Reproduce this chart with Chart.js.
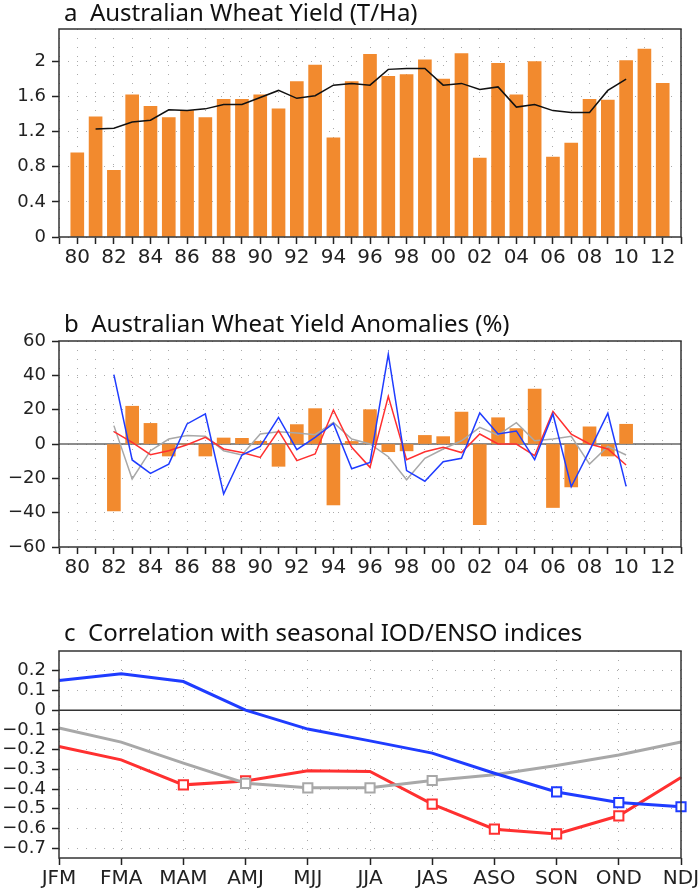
<!DOCTYPE html>
<html>
<head>
<meta charset="utf-8">
<script src="https://cdn.jsdelivr.net/npm/chart.js@4.4.0/dist/chart.umd.min.js"></script>
<style>
  body { margin: 0; background: #fff; width: 700px; height: 889px; position: relative; overflow: hidden; }
  canvas { position: absolute; left: 0; }
</style>
</head>
<body>
<canvas id="chartA" width="700" height="270" style="top:0"></canvas>
<canvas id="chartB" width="700" height="320" style="top:270px"></canvas>
<canvas id="chartC" width="700" height="299" style="top:590px"></canvas>
<script>
// x axis years, 1979 and 2013 are only the empty edges of the axis
const years = [1979, 1980, 1981, 1982, 1983, 1984, 1985, 1986, 1987, 1988, 1989, 1990,
  1991, 1992, 1993, 1994, 1995, 1996, 1997, 1998, 1999, 2000, 2001, 2002, 2003, 2004,
  2005, 2006, 2007, 2008, 2009, 2010, 2011, 2012, 2013];

// panel a: yield 1980-2012, trend 1981-2010
const yieldVals = [0.96, 1.37, 0.76, 1.62, 1.49, 1.36, 1.44, 1.36, 1.57, 1.57, 1.62, 1.46,
  1.77, 1.96, 1.13, 1.77, 2.08, 1.83, 1.85, 2.02, 1.80, 2.09, 0.90, 1.98, 1.62, 2.00,
  0.91, 1.07, 1.57, 1.56, 2.01, 2.14, 1.75];
const trendVals = [1.23, 1.24, 1.31, 1.33, 1.45, 1.44, 1.46, 1.51, 1.51, 1.59, 1.67, 1.58,
  1.61, 1.73, 1.75, 1.73, 1.91, 1.92, 1.92, 1.73, 1.75, 1.68, 1.71, 1.48, 1.51, 1.44,
  1.42, 1.42, 1.67, 1.80];
const yieldTicks = [0, 0.4, 0.8, 1.2, 1.6, 2];

// panel b: anomalies 1982-2010 (%)
const anomVals = [-39, 22, 12, -7, 0, -7, 3.5, 3.3, 1.6, -13, 11.3, 20.6, -35.5, 1.5,
  20, -4.5, -4, 5, 4.3, 18.6, -47, 15.3, 9, 32, -37, -25, 10, -7, 11.5];
const blueVals = [40.4, -9.3, -17.1, -11.7, 11.7, 17.5, -29.1, -6.4, -1.4, 15.5, -3.3, 3.9,
  12, -14.4, -10.7, 52.4, -15.5, -21.7, -10.3, -8.3, 18.1, 5.8, 7.6, -9.1, 17.5, -24.9,
  -3.9, 17.9, -24.7];
const redVals = [7.2, 1, -6.2, -3.9, -0.4, 3.9, -2.9, -4.9, -7.8, 7.8, -9.7, -5.8, 19.8,
  -1.9, -13.6, 27.8, -9.1, -4.5, -1.9, -5, 5.8, 0, 0, -6.8, 19, 5.8, 0, -2.9, -12.2];
const grayVals = [10.7, -20.4, -3.9, 2.9, 4.9, 4.5, -3.9, -6.4, 5.8, 7.2, 6.4, 5.4, 12.6,
  2.9, 0, -7.4, -20.8, -8.3, -2.9, 1.9, 9.7, 5.2, 12.4, 1.9, 2.9, 4.5, -11.7, -1.4, -6.4];
const anomTicks = [-60, -40, -20, 0, 20, 40, 60];

// panel c: correlations by season
const seasons = ['JFM', 'FMA', 'MAM', 'AMJ', 'MJJ', 'JJA', 'JAS', 'ASO', 'SON', 'OND', 'NDJ'];
const corrBlue = [0.15, 0.185, 0.145, 0, -0.096, -0.156, -0.218, -0.32, -0.415, -0.469, -0.49];
const corrRed = [-0.184, -0.252, -0.379, -0.359, -0.308, -0.311, -0.477, -0.604, -0.628, -0.536, -0.342];
const corrGray = [-0.091, -0.162, -0.269, -0.371, -0.394, -0.394, -0.357, -0.328, -0.281, -0.228, -0.162];
const sigBlue = [0, 0, 0, 0, 0, 0, 0, 0, 1, 1, 1];
const sigRed = [0, 0, 1, 1, 0, 0, 1, 1, 1, 1, 0];
const sigGray = [0, 0, 0, 1, 1, 1, 1, 0, 0, 0, 0];
const corrTicks = [-0.7, -0.6, -0.5, -0.4, -0.3, -0.2, -0.1, 0, 0.1, 0.2];

const ORANGE = '#f28a2e';
const BLUE = '#1f3cff';
const RED = '#ff3030';
const GRAY = '#a8a8a8';

// put a series that starts at startYear onto the full years axis
function onYears(vals, startYear) {
  return years.map(y => {
    const i = y - startYear;
    return i >= 0 && i < vals.length ? vals[i] : null;
  });
}

function minus(v) {
  return v < 0 ? '\u2212' + String(Math.abs(v)) : String(v);
}

// title, frame and zero line
function panelPlugin(title, baseline, zeroColor) {
  return {
    id: 'panel',
    beforeDatasetsDraw(chart) {
      if (!zeroColor) return;
      const { ctx, chartArea } = chart;
      const y0 = chart.scales.y.getPixelForValue(0);
      ctx.save();
      ctx.strokeStyle = zeroColor;
      ctx.lineWidth = 1.5;
      ctx.beginPath();
      ctx.moveTo(chartArea.left, y0);
      ctx.lineTo(chartArea.right, y0);
      ctx.stroke();
      ctx.restore();
    },
    afterDraw(chart) {
      const { ctx, chartArea } = chart;
      ctx.save();
      ctx.strokeStyle = '#333';
      ctx.lineWidth = 1.5;
      ctx.strokeRect(chartArea.left, chartArea.top, chartArea.right - chartArea.left, chartArea.bottom - chartArea.top);
      ctx.fillStyle = '#111';
      ctx.font = '24px "Noto Sans"';
      ctx.textBaseline = 'alphabetic';
      ctx.fillText(title, 64, baseline);
      ctx.restore();
    }
  };
}

function xYears(h) {
  return {
    type: 'category',
    offset: false,
    afterFit(s) { s.height = h; s.paddingLeft = 0; s.paddingRight = 0; },
    grid: { offset: false, color: '#aaa', lineWidth: 1, tickLength: 7, tickColor: '#222', tickWidth: 1.5 },
    border: { display: false, dash: [1, 8] },
    ticks: {
      autoSkip: false, maxRotation: 0, padding: 2, color: '#222',
      font: { family: 'DejaVu Sans', size: 20 },
      callback: (v, i) => years[i] % 2 === 0 ? String(years[i]).slice(2) : ''
    }
  };
}

function yAxis(min, max, tickVals) {
  return {
    min: min, max: max,
    afterFit(s) { s.width = 59; s.paddingTop = 0; s.paddingBottom = 0; },
    afterBuildTicks(s) { s.ticks = tickVals.map(v => ({ value: v })); },
    grid: { color: '#aaa', lineWidth: 1, tickLength: 7, tickColor: '#222', tickWidth: 1.5 },
    border: { display: false, dash: [1, 8] },
    ticks: {
      autoSkip: false, padding: 6, color: '#222',
      font: { family: 'DejaVu Sans', size: 18 },
      callback: v => minus(v)
    }
  };
}

const common = {
  responsive: false,
  animation: false,
  devicePixelRatio: 1,
  plugins: { legend: { display: false }, tooltip: { enabled: false } }
};

// panel a
new Chart(document.getElementById('chartA'), {
  type: 'bar',
  data: {
    labels: years,
    datasets: [
      { type: 'line', data: onYears(trendVals, 1981), borderColor: '#111', borderWidth: 1.5,
        pointRadius: 0, order: 1 },
      { data: onYears(yieldVals, 1980), backgroundColor: ORANGE, barThickness: 13, order: 2 }
    ]
  },
  options: Object.assign({}, common, {
    layout: { padding: { left: 0, right: 19, top: 29, bottom: 0 } },
    scales: { x: xYears(33), y: yAxis(0, 2.37, yieldTicks) }
  }),
  plugins: [panelPlugin('a  Australian Wheat Yield (T/Ha)', 21, null)]
});

// panel b
const lineB = (vals, color, order) => ({
  type: 'line', data: onYears(vals, 1982), borderColor: color, borderWidth: 1.5,
  pointRadius: 0, order: order
});
new Chart(document.getElementById('chartB'), {
  type: 'bar',
  data: {
    labels: years,
    datasets: [
      lineB(blueVals, BLUE, 0),
      lineB(redVals, RED, 1),
      lineB(grayVals, GRAY, 2),
      { data: onYears(anomVals, 1982), backgroundColor: ORANGE, barThickness: 13, order: 3 }
    ]
  },
  options: Object.assign({}, common, {
    layout: { padding: { left: 0, right: 19, top: 71, bottom: 0 } },
    scales: { x: xYears(43), y: yAxis(-60, 60, anomTicks) }
  }),
  plugins: [panelPlugin('b  Australian Wheat Yield Anomalies (%)', 62, '#666')]
});

// panel c
const lineC = (vals, sig, color, order) => ({
  data: vals, borderColor: color, borderWidth: 3, order: order,
  pointStyle: 'rect', pointBackgroundColor: '#fff', pointBorderColor: color,
  pointBorderWidth: 2, pointRadius: sig.map(s => s ? 6.5 : 0)
});
new Chart(document.getElementById('chartC'), {
  type: 'line',
  data: {
    labels: seasons,
    datasets: [
      lineC(corrBlue, sigBlue, BLUE, 0),
      lineC(corrGray, sigGray, GRAY, 1),
      lineC(corrRed, sigRed, RED, 2)
    ]
  },
  options: Object.assign({}, common, {
    layout: { padding: { left: 0, right: 19, top: 61, bottom: 0 } },
    scales: {
      x: {
        type: 'category',
        offset: false,
        afterFit(s) { s.height = 31; s.paddingLeft = 0; s.paddingRight = 0; },
        grid: { color: '#aaa', lineWidth: 1, tickLength: 7, tickColor: '#222', tickWidth: 1.5 },
        border: { display: false, dash: [1, 8] },
        ticks: { autoSkip: false, maxRotation: 0, padding: 2, color: '#222',
          font: { family: 'DejaVu Sans', size: 20 } }
      },
      y: yAxis(-0.75, 0.3, corrTicks)
    }
  }),
  plugins: [panelPlugin('c  Correlation with seasonal IOD/ENSO indices', 51, '#333')]
});
</script>
</body>
</html>
